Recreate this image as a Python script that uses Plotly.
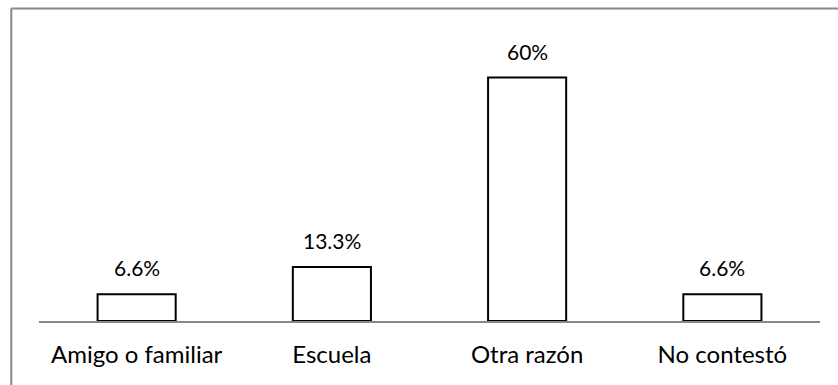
import plotly.graph_objects as go

# Survey responses: share of answers per reason
categorias = ["Amigo o familiar", "Escuela", "Otra razón", "No contestó"]
porcentajes = [6.6, 13.3, 60, 6.6]
etiquetas = ["6.6%", "13.3%", "60%", "6.6%"]

FONT = "Lato, Carlito, Calibri, sans-serif"

fig = go.Figure(
    go.Bar(
        x=categorias,
        y=porcentajes,
        marker=dict(color="white", line=dict(color="black", width=2)),
        width=0.4,
        hoverinfo="skip",
    )
)

# value labels above each bar
for cat, val, txt in zip(categorias, porcentajes, etiquetas):
    fig.add_annotation(
        x=cat, y=val, text=txt, showarrow=False,
        xanchor="center", yanchor="bottom", yshift=12,
        font=dict(family=FONT, size=21, color="black"),
    )

# chart frame (left and top edges)
fig.add_shape(type="line", xref="paper", yref="paper",
              x0=-0.0355, x1=1.1, y0=1.10, y1=1.10,
              line=dict(color="#878787", width=2))
fig.add_shape(type="line", xref="paper", yref="paper",
              x0=-0.0355, x1=-0.0355, y0=1.10, y1=-0.3,
              line=dict(color="#878787", width=2))

fig.update_layout(
    width=838, height=385,
    margin=dict(l=39, r=18, t=37, b=64),
    paper_bgcolor="white", plot_bgcolor="white",
    showlegend=False,
    xaxis=dict(
        showline=True, linecolor="#888888", linewidth=1.5,
        showgrid=False, ticks="", ticklabelstandoff=11,
        tickfont=dict(family=FONT, size=24, color="black"),
    ),
    yaxis=dict(range=[0, 70], visible=False, showgrid=False, zeroline=False),
)

fig.write_html("out.html")
